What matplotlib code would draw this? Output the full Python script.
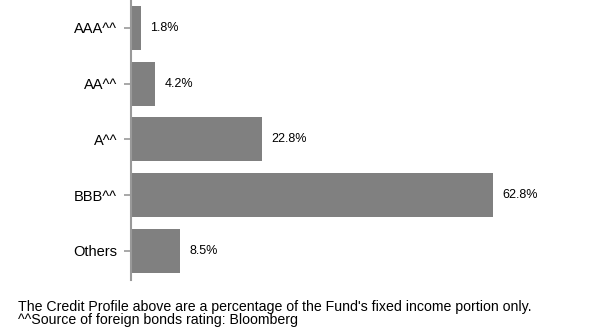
import matplotlib.pyplot as plt

plt.rcParams['font.family'] = ['Liberation Sans', 'DejaVu Sans']

ratings = ["AAA^^", "AA^^", "A^^", "BBB^^", "Others"]
weights = [1.8, 4.2, 22.8, 62.8, 8.5]
labels = ["1.8%", "4.2%", "22.8%", "62.8%", "8.5%"]

fig = plt.figure(figsize=(5.95, 3.29), dpi=100)
ax = fig.add_axes([131 / 595, 49 / 329, 464 / 595, 280 / 329])

ypos = list(range(len(ratings)))
ax.barh(ypos, weights, height=0.79, color="#808080")
ax.set_yticks(ypos)
ax.set_yticklabels(ratings, fontsize=10.5)
ax.set_ylim(4.52, -0.5)
ax.set_xlim(0, 80.5)

for y, w, lab in zip(ypos, weights, labels):
    ax.annotate(lab, (w, y), xytext=(6.5, 0), textcoords="offset points",
                va="center", ha="left", fontsize=9)

for s in ["top", "right", "bottom"]:
    ax.spines[s].set_visible(False)
ax.spines["left"].set_color("#999999")
ax.spines["left"].set_linewidth(1.5)
ax.tick_params(axis="y", length=5, width=1.2, color="#999999", pad=5)
ax.set_xticks([])

footer = ("The Credit Profile above are a percentage of the Fund's fixed income portion only.\n"
          "^^Source of foreign bonds rating: Bloomberg")
fig.text(18 / 595, 1 - 300 / 329, footer, fontsize=10.2, va="top", ha="left",
         linespacing=0.88)

fig.savefig("out.png", dpi=100)
